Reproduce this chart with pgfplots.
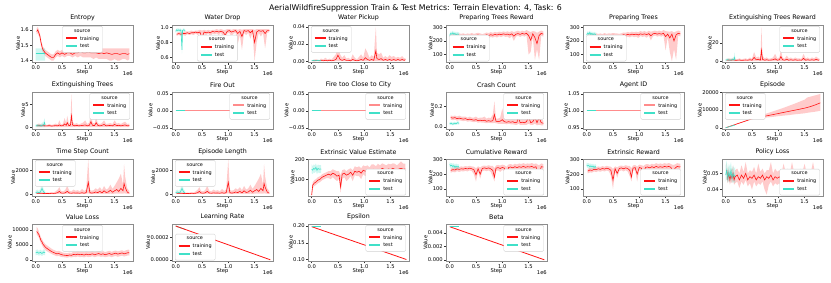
\documentclass[border=0pt]{standalone}
\usepackage{pgfplots}
\pgfplotsset{compat=1.18}
\usepackage{pgfplotstable}
\usepgfplotslibrary{fillbetween}
\usepackage{fontspec}
\setmainfont{DejaVu Sans}
\definecolor{trnc}{RGB}{255,20,20}
\definecolor{trnl}{RGB}{255,140,140}
\definecolor{tstc}{RGB}{64,224,200}
\newcommand\ticksize{\fontsize{5.2}{5.6}\selectfont}
\newcommand\titlesize{\fontsize{6.3}{6.8}\selectfont}
\newcommand\legsize{\fontsize{4.9}{5.4}\selectfont}

% ---------------- data ----------------
\pgfplotstableread{
x y l h
0.02 1.59 1.57 1.61
0.04 1.60 1.58 1.62
0.06 1.58 1.56 1.60
0.08 1.56 1.54 1.58
0.10 1.52 1.50 1.54
0.12 1.49 1.47 1.51
0.14 1.47 1.45 1.49
0.16 1.46 1.44 1.48
0.18 1.45 1.43 1.47
0.22 1.44 1.42 1.46
0.26 1.43 1.41 1.45
0.30 1.42 1.40 1.44
0.34 1.42 1.40 1.44
0.38 1.44 1.42 1.46
0.42 1.45 1.43 1.47
0.46 1.44 1.42 1.46
0.50 1.45 1.43 1.47
0.55 1.44 1.42 1.46
0.60 1.45 1.43 1.47
0.65 1.45 1.43 1.47
0.70 1.44 1.42 1.46
0.75 1.45 1.43 1.47
0.80 1.45 1.42 1.48
0.85 1.46 1.43 1.48
0.90 1.45 1.42 1.48
0.95 1.45 1.42 1.48
1.00 1.455 1.42 1.49
1.05 1.45 1.42 1.48
1.10 1.45 1.41 1.48
1.15 1.45 1.42 1.48
1.20 1.445 1.41 1.48
1.25 1.45 1.41 1.48
1.30 1.445 1.41 1.48
1.35 1.45 1.41 1.48
1.40 1.445 1.40 1.48
1.45 1.44 1.40 1.48
1.50 1.445 1.41 1.48
1.55 1.445 1.40 1.48
1.60 1.44 1.40 1.48
1.65 1.445 1.41 1.48
1.70 1.445 1.41 1.48
1.75 1.44 1.40 1.48
1.78 1.445 1.41 1.48
}\tEntT
\pgfplotstableread{
x y l h
0.00 1.445 1.40 1.48
0.06 1.445 1.40 1.48
0.12 1.445 1.40 1.48
0.18 1.445 1.40 1.48
}\tEntV

\pgfplotstableread{
x y l h
0.02 0.91 0.89 0.93
0.06 0.92 0.90 0.94
0.10 0.91 0.89 0.94
0.14 0.92 0.90 0.94
0.18 0.92 0.89 0.95
0.22 0.93 0.91 0.95
0.26 0.92 0.90 0.95
0.30 0.93 0.91 0.96
0.34 0.93 0.90 0.95
0.38 0.94 0.92 0.96
0.42 0.93 0.90 0.96
0.46 0.94 0.92 0.97
0.50 0.86 0.70 0.96
0.54 0.94 0.91 0.97
0.58 0.93 0.90 0.96
0.62 0.94 0.92 0.97
0.66 0.93 0.88 0.96
0.70 0.95 0.92 0.97
0.74 0.94 0.91 0.97
0.78 0.95 0.92 0.98
0.82 0.94 0.90 0.97
0.86 0.95 0.93 0.98
0.90 0.94 0.88 0.97
0.94 0.90 0.80 0.97
0.98 0.95 0.92 0.98
1.02 0.96 0.93 0.98
1.06 0.94 0.88 0.97
1.10 0.95 0.92 0.98
1.14 0.96 0.93 0.98
1.18 0.92 0.78 0.97
1.22 0.95 0.90 0.98
1.26 0.88 0.70 0.97
1.30 0.96 0.93 0.98
1.34 0.95 0.90 0.98
1.38 0.96 0.93 0.98
1.42 0.93 0.85 0.98
1.46 0.96 0.93 0.98
1.50 0.80 0.55 0.97
1.54 0.94 0.80 0.98
1.58 0.96 0.93 0.98
1.62 0.95 0.88 0.98
1.66 0.96 0.93 0.98
1.70 0.92 0.72 0.98
1.74 0.96 0.93 0.98
1.78 0.96 0.94 0.98
}\tWdT
\pgfplotstableread{
x y l h
0.00 0.95 0.93 0.97
0.02 0.97 0.95 0.99
0.04 0.96 0.94 0.99
0.06 0.97 0.95 0.99
0.08 0.96 0.94 0.98
0.10 0.97 0.95 0.99
0.12 0.70 0.65 0.90
0.13 0.96 0.94 0.98
0.15 0.97 0.95 0.99
0.18 0.96 0.94 0.98
}\tWdV

\pgfplotstableread{
x y l h
0.02 0.0005 0 0.001
0.06 0.0005 0 0.002
0.10 0.001 0 0.002
0.14 0.0005 0 0.001
0.18 0.001 0 0.003
0.22 0.0005 0 0.002
0.26 0.001 0 0.004
0.30 0.0005 0 0.002
0.34 0.001 0 0.003
0.38 0.0005 0 0.002
0.42 0.001 0 0.005
0.46 0.002 0 0.008
0.50 0.007 0 0.020
0.54 0.002 0 0.008
0.58 0.001 0 0.004
0.62 0.002 0 0.007
0.66 0.001 0 0.003
0.70 0.001 0 0.004
0.74 0.0005 0 0.002
0.78 0.002 0 0.008
0.82 0.001 0 0.004
0.86 0.0005 0 0.002
0.90 0.001 0 0.005
0.94 0.002 0 0.008
0.98 0.001 0 0.004
1.02 0.004 0 0.015
1.06 0.002 0 0.010
1.10 0.001 0 0.004
1.14 0.002 0 0.007
1.18 0.001 0 0.005
1.22 0.012 0 0.040
1.24 0.003 0 0.010
1.28 0.002 0 0.008
1.32 0.003 0 0.010
1.36 0.001 0 0.004
1.40 0.002 0 0.006
1.44 0.001 0 0.004
1.48 0.002 0 0.007
1.52 0.001 0 0.005
1.56 0.002 0 0.006
1.60 0.001 0 0.004
1.64 0.002 0 0.005
1.68 0.001 0 0.004
1.72 0.002 0 0.006
1.76 0.001 0 0.003
1.78 0.002 0 0.004
}\tWpT
\pgfplotstableread{
x y l h
0.00 0.0005 0 0.001
0.04 0.001 0 0.002
0.08 0.0005 0 0.001
0.12 0.001 0 0.002
0.16 0.0005 0 0.001
0.18 0.001 0 0.002
}\tWpV

\pgfplotstableread{
x y l h
0.02 230 215 245
0.06 235 220 250
0.10 240 225 255
0.14 235 220 250
0.18 240 225 255
0.22 238 222 252
0.26 242 228 256
0.30 236 220 250
0.34 240 225 255
0.38 238 220 252
0.42 242 225 258
0.46 236 215 252
0.50 240 225 256
0.54 244 228 260
0.58 232 200 255
0.62 215 120 250
0.66 238 215 255
0.70 245 230 262
0.74 240 220 258
0.78 246 230 265
0.82 242 225 260
0.86 248 232 266
0.90 244 225 262
0.94 250 235 268
0.98 246 228 265
1.02 252 236 270
1.06 248 230 266
1.10 250 232 270
1.14 244 220 265
1.18 252 236 272
1.22 235 200 265
1.26 250 232 270
1.30 254 238 275
1.34 248 230 268
1.38 255 238 276
1.42 250 232 270
1.46 256 240 280
1.50 240 100 272
1.54 205 120 265
1.58 252 232 272
1.62 225 60 270
1.66 180 140 260
1.70 240 60 268
1.74 255 238 276
1.78 250 232 270
}\tPtrT
\pgfplotstableread{
x y l h
0.00 240 230 255
0.02 255 240 270
0.04 250 235 265
0.06 260 245 275
0.08 248 232 262
0.10 255 240 270
0.12 245 230 260
0.14 252 238 268
0.16 248 232 262
0.18 250 235 265
}\tPtrV

\pgfplotstableread{
x y l h
0.02 232 218 248
0.06 236 220 252
0.10 238 222 255
0.14 234 218 250
0.18 240 224 256
0.22 236 220 252
0.26 240 226 255
0.30 235 218 250
0.34 242 226 258
0.38 236 218 252
0.42 240 224 256
0.46 238 218 254
0.50 242 226 258
0.54 240 222 256
0.58 236 210 255
0.62 220 140 252
0.66 240 220 256
0.70 246 230 262
0.74 242 224 260
0.78 248 232 266
0.82 244 226 262
0.86 250 234 268
0.90 246 228 264
0.94 250 232 268
0.98 244 222 264
1.02 252 236 272
1.06 248 230 268
1.10 252 234 272
1.14 246 224 266
1.18 254 238 274
1.22 238 205 268
1.26 252 234 272
1.30 256 240 276
1.34 250 232 270
1.38 254 236 276
1.42 250 232 270
1.46 256 240 280
1.50 232 130 272
1.54 250 230 270
1.58 222 120 268
1.62 250 50 272
1.66 200 140 262
1.70 245 60 270
1.74 256 238 276
1.78 252 234 272
}\tPtT
\pgfplotstableread{
x y l h
0.00 245 232 258
0.02 258 242 272
0.04 250 236 265
0.06 262 246 276
0.08 246 232 260
0.10 256 240 270
0.12 244 230 258
0.14 254 238 268
0.16 246 232 260
0.18 250 236 264
}\tPtV

\pgfplotstableread{
x y l h
0.02 1.0 0 2
0.06 1.2 0 3
0.10 1.0 0 2.5
0.14 1.5 0 3
0.18 1.0 0 2
0.22 1.0 0 2
0.26 1.2 0 3
0.30 0.8 0 2
0.34 1.0 0 2.5
0.38 1.2 0 3
0.42 1.0 0 2
0.46 1.5 0 4
0.50 1.0 0 2.5
0.54 4.0 0 10
0.58 1.5 0 4
0.62 2.0 0 5
0.66 1.0 0 3
0.68 12 0 37
0.70 2.0 0 6
0.74 1.0 0 3
0.78 1.5 0 4
0.82 1.0 0 2.5
0.86 1.2 0 3
0.90 1.5 0 4
0.94 2.5 0 8
0.98 1.0 0 3
1.02 1.5 0 4
1.05 5.0 0 13
1.08 1.5 0 4
1.12 1.0 0 2.5
1.16 2.0 0 6
1.20 1.0 0 3
1.24 1.5 0 4
1.28 1.0 0 2.5
1.32 1.5 0 4
1.36 1.0 0 3
1.40 1.2 0 3
1.44 1.0 0 2.5
1.48 3.0 0 8
1.52 1.0 0 3
1.56 1.5 0 4
1.60 1.0 0 2.5
1.64 1.5 0 4
1.68 1.0 0 3
1.72 2.0 0 5
1.76 1.0 0 3
1.78 1.5 0 3
}\tEtrT
\pgfplotstableread{
x y l h
0.00 1.2 0 2.5
0.04 1.5 0 3
0.08 1.0 0 2.5
0.12 1.5 0 3
0.16 2.0 0 5
0.17 4.0 0 10
0.18 1.5 0 3
}\tEtrV

\pgfplotstableread{
x y l h
0.02 0.3 0 0.6
0.06 0.4 0 0.8
0.10 0.3 0 0.6
0.14 0.35 0 0.7
0.18 0.3 0 0.6
0.22 0.3 0 0.5
0.26 0.35 0 0.7
0.30 0.25 0 0.5
0.34 0.3 0 0.6
0.38 0.35 0 0.8
0.42 0.3 0 0.6
0.45 0.5 0 1.5
0.48 0.3 0 0.6
0.52 0.35 0 0.8
0.55 0.7 0 2.0
0.58 0.4 0 0.9
0.60 1.0 0 2.5
0.63 0.35 0 0.8
0.66 0.4 0 1.0
0.68 2.5 0 7.3
0.70 0.5 0 1.2
0.74 0.3 0 0.7
0.78 0.4 0 0.9
0.82 0.3 0 0.6
0.86 0.35 0 0.8
0.90 0.4 0 1.0
0.94 0.5 0 1.5
0.98 0.3 0 0.7
1.02 0.4 0 1.0
1.05 1.2 0 3.5
1.08 0.4 0 1.0
1.12 0.35 0 0.8
1.15 1.0 0 2.3
1.18 0.4 0 0.9
1.22 0.3 0 0.7
1.26 0.4 0 0.9
1.30 0.6 0 1.5
1.34 0.3 0 0.7
1.38 0.35 0 0.8
1.42 0.4 0 0.9
1.46 0.3 0 0.7
1.50 0.6 0 1.5
1.54 0.35 0 0.8
1.58 0.4 0 0.9
1.62 0.3 0 0.7
1.66 0.4 0 1.0
1.70 0.5 0 1.2
1.74 0.3 0 0.7
1.78 0.35 0 0.8
}\tEtT
\pgfplotstableread{
x y l h
0.00 0.3 0 0.6
0.04 0.35 0 0.7
0.08 0.3 0 0.6
0.12 0.4 0 0.9
0.15 0.5 0 1.2
0.17 1.0 0 2.0
0.18 0.4 0 0.8
}\tEtV

\pgfplotstableread{
x y l h
0.02 0.09 0.07 0.11
0.06 0.085 0.065 0.105
0.10 0.09 0.07 0.11
0.14 0.08 0.06 0.10
0.18 0.085 0.065 0.11
0.22 0.08 0.06 0.10
0.26 0.075 0.055 0.10
0.30 0.08 0.06 0.10
0.34 0.07 0.05 0.09
0.38 0.075 0.055 0.10
0.42 0.07 0.05 0.09
0.46 0.065 0.045 0.09
0.50 0.07 0.05 0.10
0.54 0.06 0.04 0.085
0.58 0.065 0.045 0.09
0.62 0.06 0.04 0.09
0.66 0.065 0.04 0.10
0.70 0.055 0.035 0.08
0.74 0.06 0.04 0.09
0.78 0.055 0.035 0.085
0.82 0.06 0.035 0.12
0.85 0.12 0.04 0.25
0.88 0.055 0.035 0.08
0.92 0.05 0.03 0.08
0.96 0.055 0.03 0.09
1.00 0.07 0.03 0.18
1.04 0.05 0.03 0.08
1.08 0.045 0.025 0.075
1.12 0.05 0.03 0.09
1.16 0.045 0.025 0.07
1.20 0.05 0.025 0.10
1.24 0.04 0.02 0.07
1.28 0.045 0.02 0.08
1.30 0.10 0.03 0.20
1.34 0.04 0.02 0.07
1.38 0.045 0.02 0.08
1.42 0.04 0.02 0.07
1.46 0.05 0.02 0.10
1.50 0.10 0.03 0.18
1.54 0.04 0.02 0.07
1.58 0.05 0.02 0.09
1.62 0.09 0.03 0.16
1.66 0.04 0.015 0.07
1.70 0.09 0.02 0.20
1.74 0.04 0.015 0.07
1.78 0.035 0.015 0.06
}\tCrT
\pgfplotstableread{
x y l h
0.00 0.03 0.02 0.045
0.03 0.035 0.02 0.05
0.06 0.025 0.015 0.04
0.09 0.035 0.02 0.05
0.12 0.03 0.02 0.045
0.15 0.04 0.025 0.055
0.18 0.035 0.02 0.05
}\tCrV

\pgfplotstableread{
x y l h
0.00 0 0 0
0.10 1000 900 1100
0.20 2000 1800 2200
0.30 3000 2800 3200
0.40 4000 3800 4300
0.50 5000 4700 5400
0.60 5600 5100 6200
0.70 6200 5500 7200
0.80 6800 5800 8200
0.90 7400 6100 9200
1.00 8000 6500 10200
1.10 8600 6800 11200
1.20 9200 7100 12300
1.30 9800 7500 13400
1.40 10400 7800 14600
1.50 11000 8100 15800
1.55 11400 8400 17000
1.60 11800 8600 17400
1.70 12800 9000 18200
1.80 14000 9500 19000
}\tEpT
\pgfplotstableread{
x y l h
0.00 0 0 0
0.06 500 450 550
0.12 1000 950 1050
0.18 1500 1450 1550
}\tEpV

\pgfplotstableread{
x y l h
0.02 80 40 150
0.06 100 50 200
0.10 90 40 180
0.14 80 40 150
0.18 70 30 130
0.22 80 40 160
0.26 70 30 140
0.30 90 40 200
0.34 80 30 160
0.38 100 40 250
0.42 150 50 400
0.45 250 60 600
0.48 120 40 300
0.52 100 40 250
0.56 130 50 350
0.60 250 60 700
0.64 120 40 300
0.68 100 40 250
0.72 130 40 400
0.76 110 40 300
0.80 120 40 350
0.84 100 40 250
0.88 140 50 450
0.92 100 40 280
0.96 150 50 400
1.00 1000 100 2900
1.03 150 50 400
1.06 110 40 300
1.10 130 40 350
1.14 200 50 500
1.18 150 50 400
1.22 250 60 600
1.26 130 40 350
1.30 300 60 700
1.34 160 50 400
1.38 200 50 500
1.42 350 60 800
1.46 180 50 450
1.50 300 60 700
1.54 400 80 1000
1.58 250 60 1300
1.62 500 80 1700
1.66 300 60 800
1.68 900 100 2500
1.70 600 80 1500
1.74 200 50 500
1.78 100 40 300
}\tTsT
\pgfplotstableread{
x y l h
0.00 150 50 300
0.03 200 60 400
0.06 150 50 300
0.09 200 60 450
0.12 500 100 1100
0.15 200 60 400
0.18 150 50 300
}\tTsV

\pgfplotstableread{
x y l h
0.00 20 10 30
0.02 70 55 85
0.05 80 65 95
0.08 85 70 100
0.12 95 80 110
0.16 100 85 115
0.20 110 95 125
0.24 115 100 130
0.28 120 105 135
0.32 125 105 140
0.36 120 100 140
0.40 130 110 150
0.44 125 100 145
0.48 115 90 140
0.52 120 100 140
0.55 60 30 120
0.58 125 100 145
0.62 130 110 150
0.66 120 90 140
0.70 125 100 150
0.74 135 115 155
0.78 120 90 145
0.82 140 120 165
0.86 135 115 160
0.90 140 115 165
0.94 130 100 155
0.98 145 125 170
1.02 140 115 165
1.06 145 125 170
1.10 135 110 160
1.14 148 125 175
1.18 150 130 175
1.22 140 115 165
1.26 150 128 178
1.30 145 120 170
1.34 155 135 180
1.38 150 125 175
1.42 145 120 170
1.46 152 130 178
1.50 148 125 175
1.54 155 135 180
1.58 150 128 178
1.62 145 120 170
1.66 152 130 180
1.70 155 130 190
1.74 150 128 178
1.78 152 132 178
}\tEvT
\pgfplotstableread{
x y l h
0.00 150 130 175
0.02 145 125 165
0.04 155 135 175
0.06 150 130 170
0.08 160 140 180
0.10 145 125 165
0.12 155 135 175
0.14 150 130 170
0.16 152 132 172
0.18 150 130 170
}\tEvV

\pgfplotstableread{
x y l h
0.02 225 210 240
0.06 230 215 245
0.10 228 212 244
0.14 235 220 250
0.18 232 215 248
0.22 236 220 252
0.26 234 218 250
0.30 238 222 254
0.34 235 218 252
0.38 240 225 256
0.42 236 220 252
0.46 230 200 250
0.50 195 150 240
0.54 236 218 252
0.58 200 170 245
0.62 238 220 255
0.66 242 225 258
0.70 238 220 255
0.74 242 225 260
0.78 236 215 255
0.82 225 180 255
0.85 180 150 240
0.88 240 220 258
0.92 244 226 262
0.96 238 215 258
1.00 245 228 264
1.04 240 220 260
1.08 195 170 250
1.12 245 228 265
1.16 248 230 268
1.20 242 222 262
1.24 250 232 270
1.28 244 225 265
1.32 250 232 272
1.36 246 226 268
1.40 252 234 274
1.44 246 225 268
1.48 250 232 272
1.52 248 228 270
1.56 252 234 275
1.60 245 222 268
1.64 250 230 272
1.67 215 60 265
1.70 200 150 260
1.74 250 230 272
1.78 248 228 268
}\tCuT
\pgfplotstableread{
x y l h
0.00 265 250 280
0.02 255 240 272
0.04 260 245 275
0.06 250 235 268
0.08 258 242 274
0.10 245 230 262
0.12 255 238 272
0.14 248 232 265
0.16 252 236 268
0.18 245 230 262
}\tCuV

\pgfplotstableread{
x y l h
0.02 220 205 235
0.06 228 212 244
0.10 225 210 240
0.14 232 218 248
0.18 230 214 246
0.22 236 220 252
0.26 232 216 248
0.30 238 222 254
0.34 234 218 250
0.38 240 224 256
0.42 236 220 252
0.46 226 190 250
0.50 160 100 235
0.54 236 218 252
0.58 205 175 245
0.62 238 220 255
0.66 242 226 258
0.70 236 218 254
0.74 242 226 260
0.78 238 218 256
0.82 225 185 255
0.85 180 150 240
0.88 240 222 258
0.92 244 226 262
0.96 200 150 250
1.00 245 228 264
1.04 240 220 260
1.08 210 180 255
1.12 246 228 266
1.16 248 230 268
1.20 242 222 262
1.24 250 232 270
1.28 244 224 265
1.32 252 234 274
1.36 246 226 268
1.40 250 232 272
1.44 246 226 268
1.48 252 234 274
1.52 248 228 270
1.56 252 234 275
1.60 246 224 268
1.64 210 120 262
1.68 240 200 265
1.72 252 234 274
1.76 248 228 270
1.78 250 230 270
}\tErT
\pgfplotstableread{
x y l h
0.00 262 248 278
0.02 255 240 272
0.04 258 242 274
0.06 250 235 268
0.08 256 240 272
0.10 248 232 265
0.12 254 238 270
0.14 246 230 262
0.16 252 236 268
0.18 246 230 262
}\tErV

\pgfplotstableread{
x y l h
0.02 0.052 0.046 0.056
0.04 0.047 0.044 0.050
0.06 0.050 0.046 0.054
0.08 0.046 0.043 0.049
0.10 0.049 0.045 0.053
0.12 0.047 0.044 0.052
0.14 0.050 0.046 0.055
0.16 0.046 0.043 0.049
0.18 0.048 0.044 0.052
0.22 0.049 0.045 0.053
0.26 0.046 0.041 0.050
0.30 0.049 0.045 0.055
0.34 0.047 0.043 0.051
0.38 0.050 0.046 0.057
0.42 0.046 0.042 0.050
0.46 0.048 0.044 0.052
0.50 0.047 0.040 0.051
0.54 0.049 0.045 0.054
0.58 0.046 0.042 0.050
0.62 0.048 0.044 0.056
0.66 0.047 0.043 0.051
0.70 0.049 0.045 0.053
0.74 0.046 0.040 0.050
0.78 0.048 0.037 0.052
0.82 0.047 0.043 0.052
0.86 0.049 0.045 0.057
0.90 0.046 0.042 0.050
0.94 0.048 0.044 0.053
0.98 0.047 0.043 0.051
1.02 0.048 0.044 0.052
1.06 0.046 0.041 0.050
1.10 0.048 0.044 0.056
1.14 0.047 0.043 0.051
1.18 0.048 0.044 0.053
1.22 0.046 0.042 0.050
1.26 0.048 0.044 0.057
1.30 0.047 0.043 0.051
1.34 0.048 0.044 0.052
1.38 0.046 0.040 0.050
1.42 0.048 0.044 0.053
1.46 0.047 0.043 0.051
1.50 0.048 0.044 0.056
1.54 0.046 0.042 0.050
1.58 0.048 0.044 0.052
1.62 0.047 0.043 0.051
1.66 0.048 0.044 0.057
1.70 0.046 0.042 0.050
1.74 0.048 0.044 0.052
1.78 0.047 0.043 0.051
}\tPlT
\pgfplotstableread{
x y l h
0.00 0.049 0.045 0.055
0.02 0.052 0.047 0.058
0.04 0.047 0.044 0.052
0.06 0.051 0.046 0.056
0.08 0.048 0.044 0.054
0.10 0.052 0.047 0.057
0.12 0.047 0.044 0.052
0.14 0.050 0.045 0.055
0.16 0.048 0.044 0.053
0.18 0.049 0.045 0.054
}\tPlV

\pgfplotstableread{
x y l h
0.02 9500 8500 11000
0.04 9000 8000 10500
0.06 8500 7500 9500
0.08 7500 6500 8500
0.10 6500 5500 7500
0.12 6000 5000 7000
0.14 5200 4200 6200
0.16 4800 3800 5800
0.18 4300 3300 5300
0.20 4000 3000 5000
0.24 3500 2600 4500
0.28 3000 2200 4000
0.32 2600 1800 3500
0.36 2300 1500 3200
0.40 2000 1200 2900
0.44 2100 1300 3000
0.48 1800 1000 2700
0.52 1600 900 2400
0.56 1500 800 2300
0.60 1400 700 2200
0.64 1600 900 2400
0.68 1500 800 2300
0.72 1800 1000 2700
0.76 1700 900 2600
0.80 1900 1100 2800
0.84 1700 900 2600
0.88 1800 1000 2700
0.92 1600 800 2500
0.96 1900 1100 2800
1.00 1700 900 2600
1.04 1800 1000 2700
1.08 2000 1200 2900
1.12 1700 900 2600
1.16 1900 1100 2800
1.20 2100 1200 3000
1.24 1800 1000 2700
1.28 2000 1100 2900
1.32 1700 900 2600
1.36 1900 1000 2800
1.40 2100 1200 3000
1.44 1800 900 2700
1.48 2000 1100 2900
1.52 2200 1300 3100
1.56 1900 1000 2800
1.60 2100 1200 3000
1.64 2300 1400 3200
1.68 2000 1100 2900
1.72 2200 1300 3200
1.76 2400 1500 3400
1.78 2300 1400 3300
}\tVlT
\pgfplotstableread{
x y l h
0.00 2300 1500 3200
0.03 2600 1700 3500
0.06 2200 1400 3000
0.09 2500 1600 3400
0.12 2100 1300 2900
0.15 2600 1700 3500
0.18 2400 1500 3300
}\tVlV

% ---------------- styles ----------------
\pgfplotsset{
  sub/.style={
    scale only axis, width=101pt, height=37.5pt, anchor=north west,
    xmin=-0.07, xmax=1.85, scaled ticks=false,
    xtick={0,0.5,1,1.5}, xticklabels={0.0,0.5,1.0,1.5},
    xlabel={Step}, ylabel={Value},
    tick label style={font=\ticksize},
    label style={font=\ticksize},
    title style={font=\titlesize, yshift=-5.5pt},
    axis line style={draw=black!45, line width=0.5pt},
    tick style={black!80, line width=0.4pt},
    tick align=outside, tick pos=left, major tick length=2pt,
    xticklabel style={inner sep=1pt},
    yticklabel style={inner sep=1pt},
    xlabel style={yshift=4.5pt},
    ylabel style={yshift=-4pt},
    legend style={font=\legsize, draw=black!18, rounded corners=1.2pt, fill=white,
      inner xsep=1.5pt, inner ysep=1pt, row sep=-1.2pt, cells={anchor=west},
      /tikz/every even column/.append style={column sep=0pt}},
    extra description/.code={\node[font=\ticksize, anchor=north east, inner sep=0pt]
      at (rel axis cs:1,0) [yshift=-9pt] {1e6};},
  },
  lNW/.style={legend style={at={(0.03,0.97)},anchor=north west}},
  lNE/.style={legend style={at={(0.97,0.97)},anchor=north east}},
  lSW/.style={legend style={at={(0.03,0.03)},anchor=south west}},
  lSE/.style={legend style={at={(0.97,0.03)},anchor=south east}},
  lN/.style={legend style={at={(0.5,0.97)},anchor=north}},
  lS/.style={legend style={at={(0.45,0.03)},anchor=south}},
}
\newcommand{\legrule}[1]{\textcolor{#1}{\rule[1.1pt]{11pt}{1.5pt}}\hspace{3pt}}
% legend: title "source", then coloured line samples made of rules
\newcommand{\leg}[1][trnc]{%
  \addlegendimage{empty legend}\addlegendentry{\hspace*{8pt}source}%
  \addlegendimage{empty legend}\addlegendentry{\legrule{#1}training}%
  \addlegendimage{empty legend}\addlegendentry{\legrule{tstc}test}}
\newcommand{\trn}[1]{%
  \addplot[name path=trH, draw=none, forget plot] table[x=x,y=h]{#1};
  \addplot[name path=trL, draw=none, forget plot] table[x=x,y=l]{#1};
  \addplot[fill=trnc, fill opacity=0.22, draw=none, forget plot] fill between[of=trH and trL];
  \addplot[draw=trnc, line width=0.6pt, forget plot] table[x=x,y=y]{#1};}
\newcommand{\tst}[1]{%
  \addplot[name path=teH, draw=none, forget plot] table[x=x,y=h]{#1};
  \addplot[name path=teL, draw=none, forget plot] table[x=x,y=l]{#1};
  \addplot[fill=tstc, fill opacity=0.25, draw=none, forget plot] fill between[of=teH and teL];
  \addplot[draw=tstc, line width=0.6pt, forget plot] table[x=x,y=y]{#1};}

\begin{document}
\begin{tikzpicture}
\node[font=\fontsize{7.8}{8.5}\selectfont] at (415.5pt,-8pt)
  {AerialWildfireSuppression Train \& Test Metrics: Terrain Elevation: 4, Task: 6};

% ---------------- row 1 ----------------
\begin{axis}[sub, at={(32pt,-25pt)}, title={Entropy}, lN,
  ymin=1.387, ymax=1.632, ytick={1.4,1.5,1.6}, yticklabels={1.4,1.5,1.6}]
\leg \trn{\tEntT} \tst{\tEntV}
\end{axis}
\begin{axis}[sub, at={(172pt,-25pt)}, title={Water Drop}, lS,
  ymin=0.53, ymax=1.035, ytick={0.6,0.8,1.0}, yticklabels={0.6,0.8,1.0}]
\leg \trn{\tWdT} \tst{\tWdV}
\end{axis}
\begin{axis}[sub, at={(308pt,-25pt)}, title={Water Pickup}, lNW,
  ymin=-0.0015, ymax=0.042, ytick={0,0.02,0.04}, yticklabels={0.00,0.02,0.04}]
\leg \trn{\tWpT} \tst{\tWpV}
\end{axis}
\begin{axis}[sub, at={(446pt,-25pt)}, title={Preparing Trees Reward}, lSW,
  ymin=42, ymax=317, ytick={100,200,300}, yticklabels={100,200,300}]
\leg \trn{\tPtrT} \tst{\tPtrV}
\end{axis}
\begin{axis}[sub, at={(583pt,-25pt)}, title={Preparing Trees}, lSW,
  ymin=42, ymax=317, ytick={100,200,300}, yticklabels={100,200,300}]
\leg \trn{\tPtT} \tst{\tPtV}
\end{axis}
\begin{axis}[sub, at={(722pt,-25pt)}, title={Extinguishing Trees Reward}, lNE,
  ymin=-1.5, ymax=39.5, ytick={0,20}, yticklabels={0,20}]
\leg \trn{\tEtrT} \tst{\tEtrV}
\end{axis}

% ---------------- row 2 ----------------
\begin{axis}[sub, at={(32pt,-92pt)}, title={Extinguishing Trees}, lNE,
  ymin=-0.5, ymax=7.7, ytick={0,5}, yticklabels={0,5}]
\leg \trn{\tEtT} \tst{\tEtV}
\end{axis}
\begin{axis}[sub, at={(172pt,-92pt)}, title={Fire Out}, lNE,
  ymin=-0.055, ymax=0.055, ytick={-0.05,0,0.05}, yticklabels={−0.05,0.00,0.05}]
\leg[trnl]
\addplot[draw=trnl, line width=1.1pt, forget plot] coordinates {(0,0) (1.8,0)};
\addplot[draw=tstc, line width=1.1pt, forget plot] coordinates {(0,0) (0.18,0)};
\end{axis}
\begin{axis}[sub, at={(308pt,-92pt)}, title={Fire too Close to City}, lNE,
  ymin=-0.055, ymax=0.055, ytick={-0.05,0,0.05}, yticklabels={−0.05,0.00,0.05}]
\leg[trnl]
\addplot[draw=trnl, line width=1.1pt, forget plot] coordinates {(0,0) (1.8,0)};
\addplot[draw=tstc, line width=1.1pt, forget plot] coordinates {(0,0) (0.18,0)};
\end{axis}
\begin{axis}[sub, at={(446pt,-92pt)}, title={Crash Count}, lNE,
  ymin=-0.026, ymax=0.34, ytick={0,0.2}, yticklabels={0.0,0.2}]
\leg \trn{\tCrT} \tst{\tCrV}
\end{axis}
\begin{axis}[sub, at={(583pt,-92pt)}, title={Agent ID}, lNE,
  ymin=0.945, ymax=1.055, ytick={0.95,1,1.05}, yticklabels={0.95,1.00,1.05}]
\leg[trnl]
\addplot[draw=trnl, line width=1.1pt, forget plot] coordinates {(0,1) (1.8,1)};
\addplot[draw=tstc, line width=1.1pt, forget plot] coordinates {(0,1) (0.18,1)};
\end{axis}
\begin{axis}[sub, at={(722pt,-92pt)}, title={Episode}, lNW,
  ymin=-1000, ymax=20100, ytick={0,10000,20000}, yticklabels={0,10000,20000}]
\leg \trn{\tEpT} \tst{\tEpV}
\end{axis}

% ---------------- row 3 ----------------
\begin{axis}[sub, at={(32pt,-159pt)}, title={Time Step Count}, lNW,
  ymin=-170, ymax=2920, ytick={0,2000}, yticklabels={0,2000}]
\leg \trn{\tTsT} \tst{\tTsV}
\end{axis}
\begin{axis}[sub, at={(172pt,-159pt)}, title={Episode Length}, lNW,
  ymin=-170, ymax=2920, ytick={0,2000}, yticklabels={0,2000}]
\leg \trn{\tTsT} \tst{\tTsV}
\end{axis}
\begin{axis}[sub, at={(308pt,-159pt)}, title={Extrinsic Value Estimate}, lSE,
  ymin=12, ymax=202, ytick={100,200}, yticklabels={100,200}]
\leg \trn{\tEvT} \tst{\tEvV}
\end{axis}
\begin{axis}[sub, at={(446pt,-159pt)}, title={Cumulative Reward}, lSE,
  ymin=49, ymax=302, ytick={100,200,300}, yticklabels={100,200,300}]
\leg \trn{\tCuT} \tst{\tCuV}
\end{axis}
\begin{axis}[sub, at={(583pt,-159pt)}, title={Extrinsic Reward}, lSE,
  ymin=49, ymax=302, ytick={100,200,300}, yticklabels={100,200,300}]
\leg \trn{\tErT} \tst{\tErV}
\end{axis}
\begin{axis}[sub, at={(722pt,-159pt)}, title={Policy Loss}, lSE,
  ymin=0.0358, ymax=0.0589, ytick={0.04,0.05}, yticklabels={0.04,0.05}]
\leg \trn{\tPlT} \tst{\tPlV}
\end{axis}

% ---------------- row 4 ----------------
\begin{axis}[sub, at={(32pt,-224pt)}, title={Value Loss}, lN,
  ymin=-570, ymax=12000, ytick={0,5000,10000}, yticklabels={0,5000,10000}]
\leg \trn{\tVlT} \tst{\tVlV}
\end{axis}
\begin{axis}[sub, at={(172pt,-224pt)}, title={Learning Rate}, lSW,
  ymin=-0.000015, ymax=0.000318, ytick={0,0.0002}, yticklabels={0.0000,0.0002}]
\leg
\addplot[draw=tstc, line width=0.8pt, forget plot] coordinates {(0,0.0003) (0.18,0.00027)};
\addplot[draw=trnc, line width=0.8pt, forget plot] coordinates {(0,0.0003) (1.8,0)};
\end{axis}
\begin{axis}[sub, at={(308pt,-224pt)}, title={Epsilon}, lNE,
  ymin=0.094, ymax=0.206, ytick={0.1,0.15,0.2}, yticklabels={0.10,0.15,0.20}]
\leg
\addplot[draw=trnc, line width=0.8pt, forget plot] coordinates {(0,0.198) (1.8,0.1)};
\addplot[draw=tstc, line width=0.8pt, forget plot] coordinates {(0,0.2) (0.18,0.2)};
\end{axis}
\begin{axis}[sub, at={(446pt,-224pt)}, title={Beta}, lNE,
  ymin=-0.00025, ymax=0.0053, ytick={0,0.002,0.004}, yticklabels={0.000,0.002,0.004}]
\leg
\addplot[draw=trnc, line width=0.8pt, forget plot] coordinates {(0,0.0049) (1.8,0)};
\addplot[draw=tstc, line width=0.8pt, forget plot] coordinates {(0,0.005) (0.18,0.005)};
\end{axis}
\pgfresetboundingbox
\path[use as bounding box] (0pt,0pt) rectangle (831pt,-283pt);
\end{tikzpicture}
\end{document}
